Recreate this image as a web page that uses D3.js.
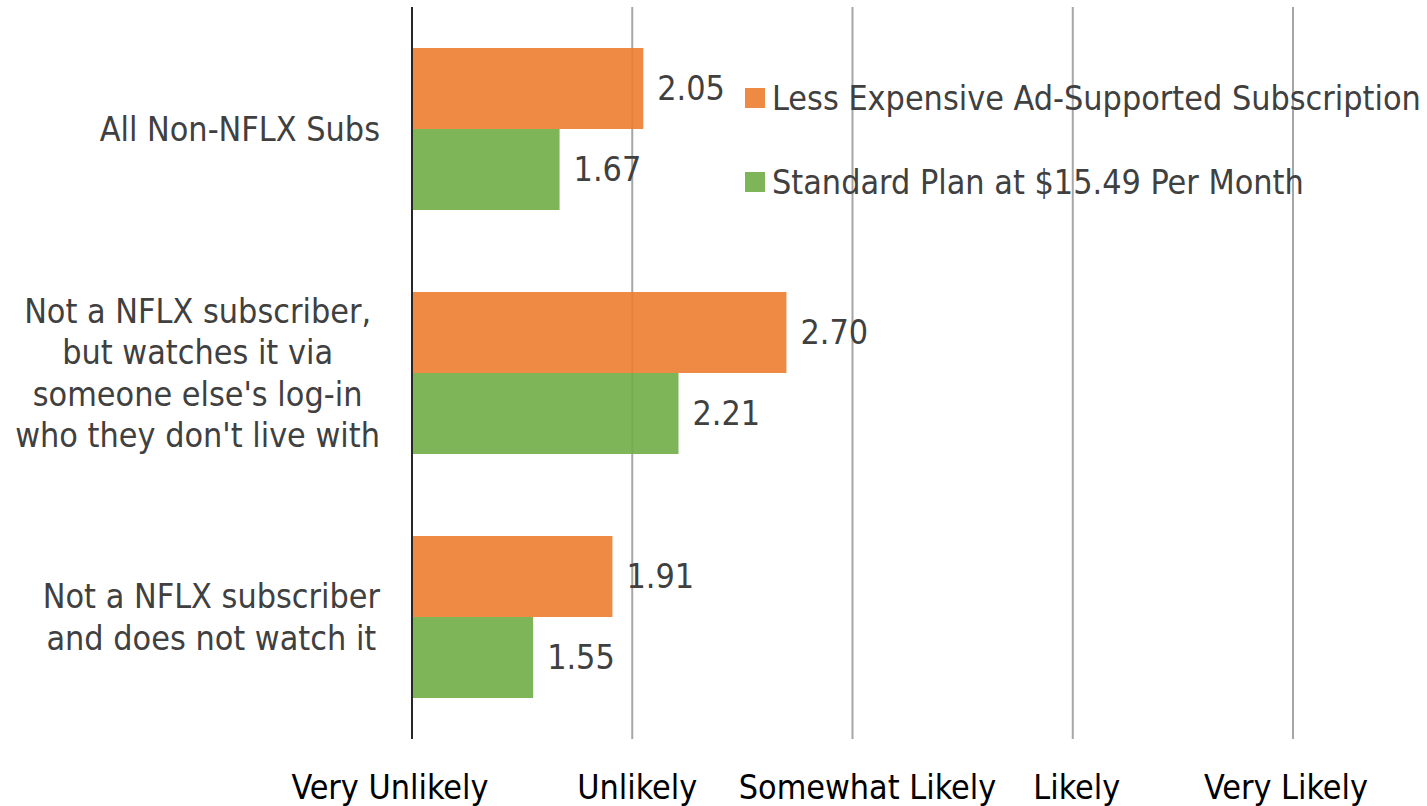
<!DOCTYPE html>
<html>
<head>
<meta charset="utf-8">
<script src="https://cdn.jsdelivr.net/npm/d3@7"></script>
<style>
  html, body { margin: 0; padding: 0; background: #fff; }
  svg { display: block; }
  text { font-family: "DejaVu Sans Condensed", "DejaVu Sans", sans-serif; }
</style>
</head>
<body>
<svg id="chart" width="1427" height="806"></svg>
<script>
const categories = [
  ["All Non-NFLX Subs"],
  ["Not a NFLX subscriber,", "but watches it via", "someone else's log-in", "who they don't live with"],
  ["Not a NFLX subscriber", "and does not watch it"]
];
const seriesNames = ["Less Expensive Ad-Supported Subscription", "Standard Plan at $15.49 Per Month"];
const adSupported = [2.05, 2.70, 1.91];
const standardPlan = [1.67, 2.21, 1.55];
const tickValues = [1, 2, 3, 4, 5];
const tickLabels = ["Very Unlikely", "Unlikely", "Somewhat Likely", "Likely", "Very Likely"];
const colors = ["#ED7D31", "#70AD47"];

const svg = d3.select("#chart");
const fs = 33.8;
const textColor = "#404040";

const x = d3.scaleLinear().domain([1, 5]).range([412, 1293]);
const catIdx = categories.map((d, i) => i);
const y = d3.scaleBand().domain(catIdx).range([7, 739]).paddingInner(0.336).paddingOuter(0.168);
const ySub = d3.scaleBand().domain([0, 1]).range([0, y.bandwidth()]);

// gridlines
svg.append("g").selectAll("line").data(tickValues.slice(1)).join("line")
  .attr("x1", d => x(d)).attr("x2", d => x(d))
  .attr("y1", 7).attr("y2", 739)
  .attr("stroke", "#A6A6A6").attr("stroke-width", 2);

const series = [adSupported, standardPlan];
const rows = [];
series.forEach((vals, s) => vals.forEach((v, i) => rows.push({ s, i, v })));

svg.append("g").selectAll("rect").data(rows).join("rect")
  .attr("x", x(1))
  .attr("y", d => y(d.i) + ySub(d.s))
  .attr("width", d => x(d.v) - x(1))
  .attr("height", ySub.bandwidth())
  .attr("fill", d => colors[d.s])
  .attr("fill-opacity", 0.9);

// value labels
svg.append("g").selectAll("text").data(rows).join("text")
  .attr("x", d => x(d.v) + 14)
  .attr("y", d => y(d.i) + ySub(d.s) + ySub.bandwidth() / 2)
  .attr("dy", "0.35em")
  .attr("font-size", fs)
  .attr("fill", textColor)
  .text(d => d.v.toFixed(2));

// axis line
svg.append("line")
  .attr("x1", x(1)).attr("x2", x(1)).attr("y1", 7).attr("y2", 739)
  .attr("stroke", "#262626").attr("stroke-width", 2);

// category labels: lines centred within a block right-aligned at 380
const lh = 41.5;
const cat = svg.append("g").selectAll("text").data(categories).join("text")
  .attr("text-anchor", "middle")
  .attr("font-size", fs)
  .attr("fill", textColor);
cat.each(function(lines, i) {
  const cy = y(i) + y.bandwidth() / 2;
  const t = d3.select(this);
  const spans = lines.map((ln, k) => t.append("tspan")
      .attr("y", cy + (k - (lines.length - 1) / 2) * lh)
      .attr("dy", "0.35em")
      .text(ln));
  const w = d3.max(spans, s => s.node().getComputedTextLength());
  spans.forEach(s => s.attr("x", 380 - w / 2));
});

// bottom tick labels
const nudge = [-22, 5, 15, 4, -7];
svg.append("g").selectAll("text").data(tickValues).join("text")
  .attr("x", (d, i) => x(d) + nudge[i])
  .attr("y", 787)
  .attr("dy", "0.35em")
  .attr("text-anchor", "middle")
  .attr("font-size", fs)
  .attr("fill", "#000")
  .text((d, i) => tickLabels[i]);

// legend
const lg = svg.append("g").selectAll("g").data(seriesNames).join("g")
  .attr("transform", (d, i) => `translate(745, ${98 + i * 84})`);
lg.append("rect").attr("x", 0).attr("y", -10).attr("width", 20).attr("height", 20)
  .attr("fill", (d, i) => colors[i]).attr("fill-opacity", 0.9);
lg.append("text").attr("x", 27).attr("y", 0).attr("dy", "0.35em")
  .attr("font-size", fs).attr("fill", textColor).text(d => d);
</script>
</body>
</html>
